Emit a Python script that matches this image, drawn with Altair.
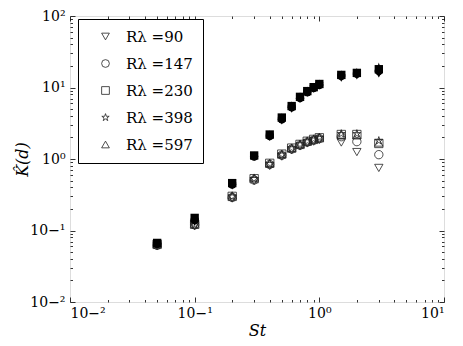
import altair as alt
import pandas as pd

St = [0.05, 0.1, 0.2, 0.3, 0.4, 0.5, 0.6, 0.7, 0.8, 0.9, 1.0, 1.5, 2.0, 3.0]
labels = ["Rλ =90", "Rλ =147", "Rλ =230", "Rλ =398", "Rλ =597"]

open_vals = {
    "Rλ =90":  [0.060, 0.115, 0.28, 0.49, 0.80, 1.08, 1.32, 1.50, 1.65, 1.75, 1.85, 1.70, 1.25, 0.75],
    "Rλ =147": [0.062, 0.120, 0.29, 0.51, 0.84, 1.13, 1.38, 1.56, 1.72, 1.83, 1.93, 2.05, 1.75, 1.15],
    "Rλ =230": [0.064, 0.122, 0.30, 0.53, 0.87, 1.17, 1.42, 1.60, 1.77, 1.88, 1.98, 2.20, 2.20, 1.65],
    "Rλ =398": [0.063, 0.120, 0.30, 0.53, 0.86, 1.16, 1.42, 1.61, 1.78, 1.90, 2.00, 2.25, 2.25, 1.80],
    "Rλ =597": [0.065, 0.125, 0.31, 0.55, 0.88, 1.18, 1.43, 1.62, 1.78, 1.90, 2.00, 2.20, 2.15, 1.70],
}
filled_vals = {
    "Rλ =90":  [0.063, 0.130, 0.42, 1.05, 2.0, 3.4, 5.0, 6.8, 8.3, 9.5, 10.5, 13.5, 14.5, 15.5],
    "Rλ =147": [0.065, 0.140, 0.44, 1.08, 2.1, 3.6, 5.3, 7.1, 8.6, 9.8, 10.8, 14.5, 15.5, 17.0],
    "Rλ =230": [0.067, 0.150, 0.46, 1.12, 2.2, 3.8, 5.5, 7.4, 8.9, 10.1, 11.2, 15.0, 16.0, 18.0],
    "Rλ =398": [0.066, 0.145, 0.45, 1.10, 2.2, 3.8, 5.6, 7.5, 9.0, 10.2, 11.3, 15.2, 16.5, 19.5],
    "Rλ =597": [0.066, 0.150, 0.46, 1.12, 2.2, 3.8, 5.5, 7.4, 8.9, 10.1, 11.2, 15.0, 16.2, 18.5],
}

x_major = [0.01, 0.1, 1, 10]
y_major = [0.01, 0.1, 1, 10, 100]
x_minor = [m * d for d in [0.01, 0.1, 1] for m in range(2, 10)]
y_minor = [m * d for d in [0.01, 0.1, 1, 10] for m in range(2, 10)]

rows = []
for lab in labels:
    for s, v in zip(St, open_vals[lab]):
        rows.append({"St": s, "K": v, "R": lab, "kind": "open"})
    for s, v in zip(St, filled_vals[lab]):
        rows.append({"St": s, "K": v, "R": lab, "kind": "filled"})
df = pd.DataFrame(rows)

W, H = 374, 286
FONT = "DejaVu Serif"
star = "M0,-1L0.2245,-0.309L0.951,-0.309L0.3633,0.118L0.5878,0.809L0,0.382L-0.5878,0.809L-0.3633,0.118L-0.951,-0.309L-0.2245,-0.309Z"
shape_scale = alt.Scale(domain=labels, range=["triangle-down", "circle", "square", star, "triangle-up"])
xs = alt.Scale(type="log", domain=[0.01, 10], nice=False)
ys = alt.Scale(type="log", domain=[0.01, 100], nice=False)
lab_expr = "'10' + replace(replace(replace(replace(replace(replace(format(round(log(datum.value)/LN10),'d'),'-','⁻'),'0','⁰'),'1','¹'),'2','²'),'3','³'),'4','⁴')"

base = alt.Chart(df)

open_layer = base.transform_filter(alt.datum.kind == "open").mark_point(
    filled=False, strokeWidth=0.8, color="#222", size=70, opacity=1
).encode(
    x=alt.X("St:Q", scale=xs, axis=alt.Axis(values=x_major, labelExpr=lab_expr, tickSize=0, domain=False,
                                              grid=False, labelFont=FONT, labelFontSize=14, labelColor="black",
                                              labelPadding=4, title="St", titleFont=FONT, titleFontStyle="italic",
                                              titleFontWeight="normal", titleFontSize=16, titleColor="black",
                                              titlePadding=2)),
    y=alt.Y("K:Q", scale=ys, axis=alt.Axis(values=y_major, labelExpr=lab_expr, tickSize=0, domain=False,
                                             grid=False, labelFont=FONT, labelFontSize=14, labelColor="black",
                                             labelPadding=5, title="K̂(d)", titleFont=FONT, titleFontStyle="italic",
                                             titleFontWeight="normal", titleFontSize=16, titleColor="black",
                                             titleX=-48, titleY=H / 2, titleAngle=270, titleBaseline="middle",
                                             titleAlign="center")),
    shape=alt.Shape("R:N", scale=shape_scale, sort=labels,
                    legend=alt.Legend(title=None, orient="none", legendX=8, legendY=3, padding=10,
                                      strokeColor="black", fillColor="white", cornerRadius=0,
                                      labelFont=FONT, labelFontSize=15, labelColor="black",
                                      symbolSize=60, symbolStrokeWidth=0.8, symbolStrokeColor="#222",
                                      symbolFillColor="transparent", rowPadding=11, labelOffset=13,
                                      symbolOffset=10)),
)

filled_layer = base.transform_filter(alt.datum.kind == "filled").mark_point(
    filled=True, color="black", size=70, opacity=1
).encode(
    x=alt.X("St:Q", scale=xs, axis=None),
    y=alt.Y("K:Q", scale=ys, axis=None),
    shape=alt.Shape("R:N", scale=shape_scale, sort=labels, legend=None),
)


def tick_layer(xvals, yvals, size, xorient, yorient, xoff, yoff):
    return base.mark_point(opacity=0).encode(
        x=alt.X("St:Q", scale=xs, axis=alt.Axis(values=xvals, orient=xorient, offset=xoff, labels=False,
                                                  domain=False, grid=False, tickSize=size, tickColor="black",
                                                  tickWidth=0.8, title=None)),
        y=alt.Y("K:Q", scale=ys, axis=alt.Axis(values=yvals, orient=yorient, offset=yoff, labels=False,
                                                 domain=False, grid=False, tickSize=size, tickColor="black",
                                                 tickWidth=0.8, title=None)),
    )


layers = [
    open_layer,
    filled_layer,
    tick_layer(x_major, y_major, 5, "top", "right", -H, -W),
    tick_layer(x_minor, y_minor, 2.5, "top", "right", -H, -W),
    tick_layer(x_major, y_major, 5, "bottom", "left", -H, -W),
    tick_layer(x_minor, y_minor, 2.5, "bottom", "left", -H, -W),
]

chart = alt.layer(*layers).resolve_axis(x="independent", y="independent").properties(
    width=W, height=H,
    autosize=alt.AutoSizeParams(type="none"),
    padding={"left": 62, "top": 8, "right": 10, "bottom": 40},
).configure_view(stroke="black", strokeWidth=1).configure(background="white")

chart.save("out.html", embed_options={"renderer": "svg", "actions": False})
